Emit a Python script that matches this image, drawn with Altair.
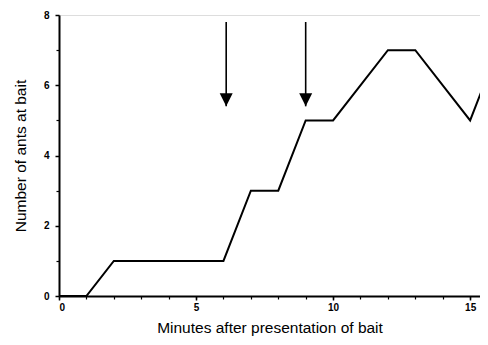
import altair as alt
import pandas as pd

minutes = [0, 1, 2, 6, 7, 8, 9, 10, 12, 13, 15, 16]
ants = [0, 0, 1, 1, 3, 3, 5, 5, 7, 7, 5, 7]
arrow_minutes = [6.1, 9.0]
arrow_top = [7.8, 7.8]
arrow_tip = [5.4, 5.4]
x_major = [0, 5, 10, 15]
x_minor = list(range(0, 16))
y_major = [0, 2, 4, 6, 8]
y_minor = [1, 3, 5, 7]

df = pd.DataFrame({"m": minutes, "n": ants})
arr = pd.DataFrame({"m": arrow_minutes, "top": arrow_top, "tip": arrow_tip})

FONT = "Liberation Sans"
xscale = alt.Scale(domain=[0, 15.36], nice=False, zero=False)
yscale = alt.Scale(domain=[0, 8], nice=False)

common = dict(grid=False, domainColor="black", tickColor="black",
              labelColor="black", titleColor="black", labelFont=FONT,
              titleFont=FONT)

x_axis = alt.Axis(title="Minutes after presentation of bait", values=x_major,
                  orient="bottom",
                  tickSize=4, tickWidth=1.5, domainWidth=2, labelPadding=2,
                  labelFontSize=10, labelFontWeight="bold", titleFontSize=15.5,
                  titleFontWeight="normal", titlePadding=8, **common)
y_axis = alt.Axis(title="Number of ants at bait", values=y_major,
                  orient="left",
                  tickSize=4, tickWidth=1.5, domainWidth=2, labelPadding=6,
                  labelFontSize=10, labelFontWeight="bold", titleFontSize=15.5,
                  titleFontWeight="normal", titlePadding=15, **common)

x_minor_axis = alt.Axis(title=None, values=x_minor, labels=False, domain=False,
                        orient="bottom",
                        tickSize=3, tickWidth=1.2, grid=False, tickColor="black")
y_minor_axis = alt.Axis(title=None, values=y_minor, labels=False, domain=False,
                        orient="left",
                        tickSize=3, tickWidth=1.2, grid=False, tickColor="black")

minor = alt.Chart(df).mark_line(opacity=0).encode(
    x=alt.X("m:Q", scale=xscale, axis=x_minor_axis),
    y=alt.Y("n:Q", scale=yscale, axis=y_minor_axis),
)

line = alt.Chart(df).mark_line(color="black", strokeWidth=2, clip=True).encode(
    x=alt.X("m:Q", scale=xscale, axis=x_axis),
    y=alt.Y("n:Q", scale=yscale, axis=y_axis),
)

shaft = alt.Chart(arr).mark_rule(color="black", strokeWidth=1.6).encode(
    x=alt.X("m:Q", scale=xscale, axis=None),
    y=alt.Y("top:Q", scale=yscale, axis=None),
    y2="tip:Q",
)

head = alt.Chart(arr).mark_point(
    shape="M-0.5,-1L0.5,-1L0,0Z", filled=True, color="black",
    size=676, opacity=1, strokeWidth=0,
).encode(
    x=alt.X("m:Q", scale=xscale, axis=None),
    y=alt.Y("tip:Q", scale=yscale, axis=None),
)

chart = alt.layer(minor, line, shaft, head).resolve_axis(
    x="independent", y="independent"
).properties(
    width=421, height=281,
    autosize=alt.AutoSizeParams(type="none"),
    padding={"left": 51, "top": 7, "right": 0, "bottom": 41},
).configure_view(stroke=None).configure(background="white")

chart.save("out.html", embed_options={"renderer": "svg", "actions": False})
